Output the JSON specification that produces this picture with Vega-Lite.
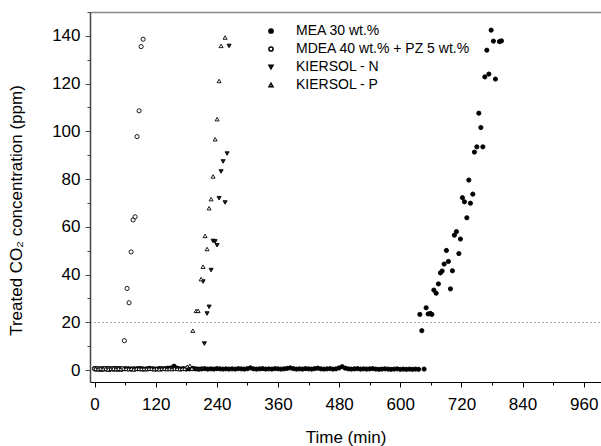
{
"$schema": "https://vega.github.io/schema/vega-lite/v6.json",
"width": 511, "height": 370,
"autosize": "none",
"padding": {"left": 90, "top": 12, "right": 0, "bottom": 64},
"background": "white",
"config": {"view": {"stroke": null}, "font": "Liberation Sans"},
"data": {"values": [
{"t":0,"c":0.6,"s":"MEA 30 wt.%"},{"t":6,"c":0.5,"s":"MEA 30 wt.%"},{"t":12,"c":0.4,"s":"MEA 30 wt.%"},{"t":18,"c":0.6,"s":"MEA 30 wt.%"},{"t":24,"c":0.5,"s":"MEA 30 wt.%"},{"t":30,"c":0.4,"s":"MEA 30 wt.%"},{"t":36,"c":0.5,"s":"MEA 30 wt.%"},{"t":42,"c":0.7,"s":"MEA 30 wt.%"},{"t":48,"c":0.5,"s":"MEA 30 wt.%"},{"t":54,"c":0.4,"s":"MEA 30 wt.%"},{"t":60,"c":0.6,"s":"MEA 30 wt.%"},{"t":66,"c":0.5,"s":"MEA 30 wt.%"},{"t":72,"c":0.4,"s":"MEA 30 wt.%"},{"t":78,"c":0.5,"s":"MEA 30 wt.%"},{"t":84,"c":0.6,"s":"MEA 30 wt.%"},{"t":90,"c":0.5,"s":"MEA 30 wt.%"},{"t":96,"c":0.4,"s":"MEA 30 wt.%"},{"t":102,"c":0.5,"s":"MEA 30 wt.%"},{"t":108,"c":0.7,"s":"MEA 30 wt.%"},{"t":114,"c":0.5,"s":"MEA 30 wt.%"},{"t":120,"c":0.4,"s":"MEA 30 wt.%"},{"t":126,"c":0.6,"s":"MEA 30 wt.%"},{"t":132,"c":0.5,"s":"MEA 30 wt.%"},{"t":138,"c":0.6,"s":"MEA 30 wt.%"},{"t":144,"c":0.8,"s":"MEA 30 wt.%"},{"t":150,"c":0.9,"s":"MEA 30 wt.%"},{"t":156,"c":1.6,"s":"MEA 30 wt.%"},{"t":162,"c":0.8,"s":"MEA 30 wt.%"},{"t":168,"c":0.5,"s":"MEA 30 wt.%"},{"t":174,"c":0.6,"s":"MEA 30 wt.%"},{"t":180,"c":0.4,"s":"MEA 30 wt.%"},{"t":186,"c":0.5,"s":"MEA 30 wt.%"},{"t":192,"c":0.6,"s":"MEA 30 wt.%"},{"t":198,"c":0.5,"s":"MEA 30 wt.%"},{"t":204,"c":0.4,"s":"MEA 30 wt.%"},{"t":210,"c":0.5,"s":"MEA 30 wt.%"},{"t":216,"c":0.6,"s":"MEA 30 wt.%"},{"t":222,"c":0.4,"s":"MEA 30 wt.%"},{"t":228,"c":0.5,"s":"MEA 30 wt.%"},{"t":234,"c":0.4,"s":"MEA 30 wt.%"},{"t":240,"c":0.6,"s":"MEA 30 wt.%"},{"t":246,"c":0.5,"s":"MEA 30 wt.%"},{"t":252,"c":0.4,"s":"MEA 30 wt.%"},{"t":258,"c":0.5,"s":"MEA 30 wt.%"},{"t":264,"c":0.4,"s":"MEA 30 wt.%"},{"t":270,"c":0.5,"s":"MEA 30 wt.%"},{"t":276,"c":0.4,"s":"MEA 30 wt.%"},{"t":282,"c":0.6,"s":"MEA 30 wt.%"},{"t":288,"c":0.5,"s":"MEA 30 wt.%"},{"t":294,"c":0.4,"s":"MEA 30 wt.%"},{"t":300,"c":0.6,"s":"MEA 30 wt.%"},{"t":306,"c":0.9,"s":"MEA 30 wt.%"},{"t":312,"c":0.5,"s":"MEA 30 wt.%"},{"t":318,"c":0.4,"s":"MEA 30 wt.%"},{"t":324,"c":0.5,"s":"MEA 30 wt.%"},{"t":330,"c":0.6,"s":"MEA 30 wt.%"},{"t":336,"c":0.4,"s":"MEA 30 wt.%"},{"t":342,"c":0.5,"s":"MEA 30 wt.%"},{"t":348,"c":0.4,"s":"MEA 30 wt.%"},{"t":354,"c":0.6,"s":"MEA 30 wt.%"},{"t":360,"c":0.5,"s":"MEA 30 wt.%"},{"t":366,"c":0.4,"s":"MEA 30 wt.%"},{"t":372,"c":0.5,"s":"MEA 30 wt.%"},{"t":378,"c":0.7,"s":"MEA 30 wt.%"},{"t":384,"c":0.9,"s":"MEA 30 wt.%"},{"t":390,"c":0.6,"s":"MEA 30 wt.%"},{"t":396,"c":0.4,"s":"MEA 30 wt.%"},{"t":402,"c":0.5,"s":"MEA 30 wt.%"},{"t":408,"c":0.4,"s":"MEA 30 wt.%"},{"t":414,"c":0.6,"s":"MEA 30 wt.%"},{"t":420,"c":0.5,"s":"MEA 30 wt.%"},{"t":426,"c":0.4,"s":"MEA 30 wt.%"},{"t":432,"c":0.6,"s":"MEA 30 wt.%"},{"t":438,"c":0.8,"s":"MEA 30 wt.%"},{"t":444,"c":0.5,"s":"MEA 30 wt.%"},{"t":450,"c":0.4,"s":"MEA 30 wt.%"},{"t":456,"c":0.5,"s":"MEA 30 wt.%"},{"t":462,"c":0.6,"s":"MEA 30 wt.%"},{"t":468,"c":0.4,"s":"MEA 30 wt.%"},{"t":474,"c":0.5,"s":"MEA 30 wt.%"},{"t":480,"c":0.9,"s":"MEA 30 wt.%"},{"t":486,"c":1.4,"s":"MEA 30 wt.%"},{"t":492,"c":0.8,"s":"MEA 30 wt.%"},{"t":498,"c":0.5,"s":"MEA 30 wt.%"},{"t":504,"c":0.4,"s":"MEA 30 wt.%"},{"t":510,"c":0.5,"s":"MEA 30 wt.%"},{"t":516,"c":0.6,"s":"MEA 30 wt.%"},{"t":522,"c":0.4,"s":"MEA 30 wt.%"},{"t":528,"c":0.5,"s":"MEA 30 wt.%"},{"t":534,"c":0.4,"s":"MEA 30 wt.%"},{"t":540,"c":0.5,"s":"MEA 30 wt.%"},{"t":546,"c":0.6,"s":"MEA 30 wt.%"},{"t":552,"c":0.4,"s":"MEA 30 wt.%"},{"t":558,"c":0.3,"s":"MEA 30 wt.%"},{"t":564,"c":0.4,"s":"MEA 30 wt.%"},{"t":570,"c":0.5,"s":"MEA 30 wt.%"},{"t":576,"c":0.4,"s":"MEA 30 wt.%"},{"t":582,"c":0.3,"s":"MEA 30 wt.%"},{"t":588,"c":0.4,"s":"MEA 30 wt.%"},{"t":594,"c":0.5,"s":"MEA 30 wt.%"},{"t":600,"c":0.3,"s":"MEA 30 wt.%"},{"t":606,"c":0.4,"s":"MEA 30 wt.%"},{"t":612,"c":0.3,"s":"MEA 30 wt.%"},{"t":618,"c":0.4,"s":"MEA 30 wt.%"},{"t":624,"c":0.3,"s":"MEA 30 wt.%"},{"t":630,"c":0.4,"s":"MEA 30 wt.%"},{"t":636,"c":0.3,"s":"MEA 30 wt.%"},{"t":646.8,"c":0.4,"s":"MEA 30 wt.%"},
{"t":638.4,"c":23.3,"s":"MEA 30 wt.%"},{"t":642.3,"c":16.5,"s":"MEA 30 wt.%"},{"t":650.8,"c":26.1,"s":"MEA 30 wt.%"},{"t":654.7,"c":23.5,"s":"MEA 30 wt.%"},{"t":659.2,"c":23.7,"s":"MEA 30 wt.%"},{"t":662.0,"c":23.3,"s":"MEA 30 wt.%"},{"t":665.9,"c":33.5,"s":"MEA 30 wt.%"},{"t":670.4,"c":32.2,"s":"MEA 30 wt.%"},{"t":674.9,"c":36.1,"s":"MEA 30 wt.%"},{"t":678.8,"c":40.7,"s":"MEA 30 wt.%"},{"t":682.2,"c":41.5,"s":"MEA 30 wt.%"},{"t":686.1,"c":44.4,"s":"MEA 30 wt.%"},{"t":690.6,"c":50.1,"s":"MEA 30 wt.%"},{"t":694.5,"c":45.5,"s":"MEA 30 wt.%"},{"t":698.5,"c":34.0,"s":"MEA 30 wt.%"},{"t":702.4,"c":41.6,"s":"MEA 30 wt.%"},{"t":706.3,"c":56.5,"s":"MEA 30 wt.%"},{"t":710.3,"c":58.0,"s":"MEA 30 wt.%"},{"t":715.0,"c":48.8,"s":"MEA 30 wt.%"},{"t":718.1,"c":54.9,"s":"MEA 30 wt.%"},{"t":722.0,"c":72.2,"s":"MEA 30 wt.%"},{"t":726.0,"c":70.5,"s":"MEA 30 wt.%"},{"t":730.7,"c":63.8,"s":"MEA 30 wt.%"},{"t":734.6,"c":79.6,"s":"MEA 30 wt.%"},{"t":737.7,"c":69.9,"s":"MEA 30 wt.%"},{"t":742.4,"c":73.7,"s":"MEA 30 wt.%"},{"t":745.6,"c":91.3,"s":"MEA 30 wt.%"},{"t":750.3,"c":93.5,"s":"MEA 30 wt.%"},{"t":754.2,"c":107.6,"s":"MEA 30 wt.%"},{"t":758.2,"c":101.6,"s":"MEA 30 wt.%"},{"t":762.1,"c":93.5,"s":"MEA 30 wt.%"},{"t":766.0,"c":122.8,"s":"MEA 30 wt.%"},{"t":769.9,"c":134.0,"s":"MEA 30 wt.%"},{"t":773.9,"c":124.0,"s":"MEA 30 wt.%"},{"t":778.4,"c":142.4,"s":"MEA 30 wt.%"},{"t":782.9,"c":137.8,"s":"MEA 30 wt.%"},{"t":786.8,"c":121.9,"s":"MEA 30 wt.%"},{"t":794.7,"c":137.6,"s":"MEA 30 wt.%"},{"t":798.6,"c":137.9,"s":"MEA 30 wt.%"},
{"t":0,"c":0.4,"s":"KIERSOL - N"},{"t":5,"c":0.5,"s":"KIERSOL - N"},{"t":10,"c":0.3,"s":"KIERSOL - N"},{"t":15,"c":0.5,"s":"KIERSOL - N"},{"t":20,"c":0.4,"s":"KIERSOL - N"},{"t":25,"c":0.6,"s":"KIERSOL - N"},{"t":30,"c":0.4,"s":"KIERSOL - N"},{"t":35,"c":0.3,"s":"KIERSOL - N"},{"t":40,"c":0.5,"s":"KIERSOL - N"},{"t":45,"c":0.4,"s":"KIERSOL - N"},{"t":50,"c":0.6,"s":"KIERSOL - N"},{"t":55,"c":0.4,"s":"KIERSOL - N"},{"t":60,"c":0.3,"s":"KIERSOL - N"},{"t":65,"c":0.5,"s":"KIERSOL - N"},{"t":70,"c":0.4,"s":"KIERSOL - N"},{"t":75,"c":0.5,"s":"KIERSOL - N"},{"t":80,"c":0.3,"s":"KIERSOL - N"},{"t":85,"c":0.4,"s":"KIERSOL - N"},{"t":90,"c":0.6,"s":"KIERSOL - N"},{"t":95,"c":0.4,"s":"KIERSOL - N"},{"t":100,"c":0.3,"s":"KIERSOL - N"},{"t":105,"c":0.5,"s":"KIERSOL - N"},{"t":110,"c":0.4,"s":"KIERSOL - N"},{"t":115,"c":0.5,"s":"KIERSOL - N"},{"t":120,"c":0.3,"s":"KIERSOL - N"},{"t":125,"c":0.4,"s":"KIERSOL - N"},{"t":130,"c":0.6,"s":"KIERSOL - N"},{"t":135,"c":0.4,"s":"KIERSOL - N"},{"t":140,"c":0.5,"s":"KIERSOL - N"},{"t":145,"c":0.3,"s":"KIERSOL - N"},{"t":150,"c":0.4,"s":"KIERSOL - N"},{"t":155,"c":0.6,"s":"KIERSOL - N"},{"t":160,"c":0.5,"s":"KIERSOL - N"},{"t":165,"c":0.4,"s":"KIERSOL - N"},{"t":170,"c":0.3,"s":"KIERSOL - N"},{"t":175,"c":0.5,"s":"KIERSOL - N"},{"t":180,"c":0.4,"s":"KIERSOL - N"},{"t":185,"c":0.6,"s":"KIERSOL - N"},{"t":190,"c":0.8,"s":"KIERSOL - N"},{"t":195,"c":0.5,"s":"KIERSOL - N"},{"t":200,"c":0.3,"s":"KIERSOL - N"},{"t":205,"c":0.2,"s":"KIERSOL - N"},{"t":210,"c":0.3,"s":"KIERSOL - N"},
{"t":215.5,"c":11.1,"s":"KIERSOL - N"},{"t":212.9,"c":37.1,"s":"KIERSOL - N"},{"t":220.8,"c":23.7,"s":"KIERSOL - N"},{"t":224.8,"c":26.5,"s":"KIERSOL - N"},{"t":228.7,"c":41.9,"s":"KIERSOL - N"},{"t":232.6,"c":54.1,"s":"KIERSOL - N"},{"t":236.6,"c":53.9,"s":"KIERSOL - N"},{"t":240.5,"c":52.3,"s":"KIERSOL - N"},{"t":244.4,"c":72.0,"s":"KIERSOL - N"},{"t":248.3,"c":83.2,"s":"KIERSOL - N"},{"t":252.3,"c":87.4,"s":"KIERSOL - N"},{"t":256.2,"c":70.2,"s":"KIERSOL - N"},{"t":260.1,"c":90.7,"s":"KIERSOL - N"},{"t":264.0,"c":135.8,"s":"KIERSOL - N"},
{"t":0,"c":0.5,"s":"MDEA 40 wt.% + PZ 5 wt.%"},{"t":3,"c":0.4,"s":"MDEA 40 wt.% + PZ 5 wt.%"},{"t":6,"c":0.6,"s":"MDEA 40 wt.% + PZ 5 wt.%"},{"t":9,"c":0.4,"s":"MDEA 40 wt.% + PZ 5 wt.%"},{"t":12,"c":0.5,"s":"MDEA 40 wt.% + PZ 5 wt.%"},{"t":15,"c":0.3,"s":"MDEA 40 wt.% + PZ 5 wt.%"},{"t":18,"c":0.5,"s":"MDEA 40 wt.% + PZ 5 wt.%"},{"t":21,"c":0.6,"s":"MDEA 40 wt.% + PZ 5 wt.%"},{"t":24,"c":0.4,"s":"MDEA 40 wt.% + PZ 5 wt.%"},{"t":27,"c":0.5,"s":"MDEA 40 wt.% + PZ 5 wt.%"},{"t":30,"c":0.4,"s":"MDEA 40 wt.% + PZ 5 wt.%"},{"t":33,"c":0.6,"s":"MDEA 40 wt.% + PZ 5 wt.%"},{"t":36,"c":0.5,"s":"MDEA 40 wt.% + PZ 5 wt.%"},{"t":39,"c":0.4,"s":"MDEA 40 wt.% + PZ 5 wt.%"},{"t":42,"c":0.5,"s":"MDEA 40 wt.% + PZ 5 wt.%"},{"t":45,"c":0.3,"s":"MDEA 40 wt.% + PZ 5 wt.%"},{"t":48,"c":0.5,"s":"MDEA 40 wt.% + PZ 5 wt.%"},{"t":51,"c":0.4,"s":"MDEA 40 wt.% + PZ 5 wt.%"},{"t":54,"c":0.6,"s":"MDEA 40 wt.% + PZ 5 wt.%"},
{"t":58.5,"c":12.3,"s":"MDEA 40 wt.% + PZ 5 wt.%"},{"t":63.8,"c":34.2,"s":"MDEA 40 wt.% + PZ 5 wt.%"},{"t":67.7,"c":28.2,"s":"MDEA 40 wt.% + PZ 5 wt.%"},{"t":71.7,"c":49.5,"s":"MDEA 40 wt.% + PZ 5 wt.%"},{"t":75.6,"c":62.9,"s":"MDEA 40 wt.% + PZ 5 wt.%"},{"t":79.5,"c":64.2,"s":"MDEA 40 wt.% + PZ 5 wt.%"},{"t":83.4,"c":97.8,"s":"MDEA 40 wt.% + PZ 5 wt.%"},{"t":87.4,"c":108.6,"s":"MDEA 40 wt.% + PZ 5 wt.%"},{"t":91.3,"c":135.5,"s":"MDEA 40 wt.% + PZ 5 wt.%"},{"t":95.2,"c":138.6,"s":"MDEA 40 wt.% + PZ 5 wt.%"},
{"t":2,"c":0.5,"s":"KIERSOL - P"},{"t":7,"c":0.4,"s":"KIERSOL - P"},{"t":12,"c":0.6,"s":"KIERSOL - P"},{"t":17,"c":0.4,"s":"KIERSOL - P"},{"t":22,"c":0.5,"s":"KIERSOL - P"},{"t":27,"c":0.3,"s":"KIERSOL - P"},{"t":32,"c":0.5,"s":"KIERSOL - P"},{"t":37,"c":0.6,"s":"KIERSOL - P"},{"t":42,"c":0.4,"s":"KIERSOL - P"},{"t":47,"c":0.5,"s":"KIERSOL - P"},{"t":52,"c":0.4,"s":"KIERSOL - P"},{"t":57,"c":0.6,"s":"KIERSOL - P"},{"t":62,"c":0.5,"s":"KIERSOL - P"},{"t":67,"c":0.4,"s":"KIERSOL - P"},{"t":72,"c":0.5,"s":"KIERSOL - P"},{"t":77,"c":0.3,"s":"KIERSOL - P"},{"t":82,"c":0.5,"s":"KIERSOL - P"},{"t":87,"c":0.6,"s":"KIERSOL - P"},{"t":92,"c":0.4,"s":"KIERSOL - P"},{"t":97,"c":0.5,"s":"KIERSOL - P"},{"t":102,"c":0.4,"s":"KIERSOL - P"},{"t":107,"c":0.6,"s":"KIERSOL - P"},{"t":112,"c":0.5,"s":"KIERSOL - P"},{"t":117,"c":0.4,"s":"KIERSOL - P"},{"t":122,"c":0.5,"s":"KIERSOL - P"},{"t":127,"c":0.3,"s":"KIERSOL - P"},{"t":132,"c":0.5,"s":"KIERSOL - P"},{"t":137,"c":0.6,"s":"KIERSOL - P"},{"t":142,"c":0.4,"s":"KIERSOL - P"},{"t":147,"c":0.5,"s":"KIERSOL - P"},{"t":152,"c":0.4,"s":"KIERSOL - P"},{"t":157,"c":0.6,"s":"KIERSOL - P"},{"t":162,"c":0.5,"s":"KIERSOL - P"},{"t":167,"c":0.4,"s":"KIERSOL - P"},{"t":172,"c":0.5,"s":"KIERSOL - P"},{"t":177,"c":0.6,"s":"KIERSOL - P"},{"t":182,"c":1.4,"s":"KIERSOL - P"},{"t":187,"c":1.8,"s":"KIERSOL - P"},{"t":191,"c":0.6,"s":"KIERSOL - P"},
{"t":192.8,"c":16.5,"s":"KIERSOL - P"},{"t":199.3,"c":24.8,"s":"KIERSOL - P"},{"t":203.2,"c":24.8,"s":"KIERSOL - P"},{"t":209.1,"c":38.1,"s":"KIERSOL - P"},{"t":212.9,"c":43.3,"s":"KIERSOL - P"},{"t":216.9,"c":56.2,"s":"KIERSOL - P"},{"t":220.8,"c":50.7,"s":"KIERSOL - P"},{"t":224.8,"c":67.8,"s":"KIERSOL - P"},{"t":228.7,"c":71.6,"s":"KIERSOL - P"},{"t":232.6,"c":81.1,"s":"KIERSOL - P"},{"t":236.6,"c":96.7,"s":"KIERSOL - P"},{"t":240.5,"c":105.1,"s":"KIERSOL - P"},{"t":244.4,"c":121.1,"s":"KIERSOL - P"},{"t":248.3,"c":135.8,"s":"KIERSOL - P"},{"t":256.2,"c":139.3,"s":"KIERSOL - P"}
]},
"layer": [
 {"mark": {"type": "point", "opacity": 0},
  "encoding": {"x": {"field": "t", "type": "quantitative", "scale": {"domain": [-9, 994], "nice": false, "zero": false},
     "axis": {"orient": "top", "labels": false, "ticks": false, "title": null, "grid": false, "domainColor": "#888", "domainWidth": 1.5}}}},
 {"mark": {"type": "point", "filled": true, "stroke": "#000", "strokeWidth": 0.9, "opacity": 1},
  "encoding": {
   "x": {"field": "t", "type": "quantitative", "scale": {"domain": [-9, 994], "nice": false, "zero": false},
     "axis": {"orient": "bottom", "title": "Time (min)", "values": [0,60,120,180,240,300,360,420,480,540,600,660,720,780,840,900,960],
       "labelExpr": "datum.value % 120 === 0 ? datum.label : ''", "tickSize": {"condition": {"test": "datum.value % 120 !== 0", "value": 3}, "value": 5},
       "grid": false, "domainColor": "#000", "domainWidth": 1, "tickColor": "#000", "labelFontSize": 17, "labelColor": "#000", "labelPadding": 9,
       "titleFontSize": 17, "titleFontWeight": "normal", "titleColor": "#000", "titlePadding": 17}},
   "y": {"field": "c", "type": "quantitative", "scale": {"domain": [-5, 150], "nice": false, "zero": false},
     "axis": {"orient": "left", "title": "Treated CO₂ concentration (ppm)", "values": [0,10,20,30,40,50,60,70,80,90,100,110,120,130,140,150],
       "labelExpr": "datum.value % 20 === 0 ? datum.label : ''", "tickSize": {"condition": {"test": "datum.value % 20 !== 0", "value": 3}, "value": 5},
       "grid": true, "gridColor": "#555", "gridDash": [1, 3], "gridWidth": 1, "gridOpacity": {"condition": {"test": "datum.value === 20", "value": 1}, "value": 0},
       "domainColor": "#444", "domainWidth": 1.5, "tickColor": "#444", "labelFontSize": 17, "labelColor": "#000", "labelPadding": 5,
       "titleFontSize": 17, "titleFontWeight": "normal", "titleColor": "#000", "titlePadding": 26, "titleY": 198}},
   "shape": {"field": "s", "type": "nominal",
     "scale": {"domain": ["MEA 30 wt.%", "MDEA 40 wt.% + PZ 5 wt.%", "KIERSOL - N", "KIERSOL - P"], "range": ["circle", "circle", "triangle-down", "triangle-up"]},
     "legend": {"title": null, "orient": "none", "legendX": 174, "legendY": 12, "labelFontSize": 14, "labelColor": "#000", "labelLimit": 0, "rowPadding": 4, "labelOffset": 18, "padding": 0}},
   "fill": {"field": "s", "type": "nominal",
     "scale": {"domain": ["MEA 30 wt.%", "MDEA 40 wt.% + PZ 5 wt.%", "KIERSOL - N", "KIERSOL - P"], "range": ["#000", "#fff", "#222", "#fff"]},
     "legend": {"title": null, "orient": "none", "legendX": 174, "legendY": 12, "labelFontSize": 14, "labelColor": "#000", "labelLimit": 0, "rowPadding": 4, "labelOffset": 18, "padding": 0}},
   "size": {"field": "s", "type": "nominal",
     "scale": {"domain": ["MEA 30 wt.%", "MDEA 40 wt.% + PZ 5 wt.%", "KIERSOL - N", "KIERSOL - P"], "range": [18, 16, 28, 28]},
     "legend": {"title": null, "orient": "none", "legendX": 174, "legendY": 12, "labelFontSize": 14, "labelColor": "#000", "labelLimit": 0, "rowPadding": 4, "labelOffset": 18, "padding": 0}}
  }}
],
"resolve": {"axis": {"x": "independent"}}
}
